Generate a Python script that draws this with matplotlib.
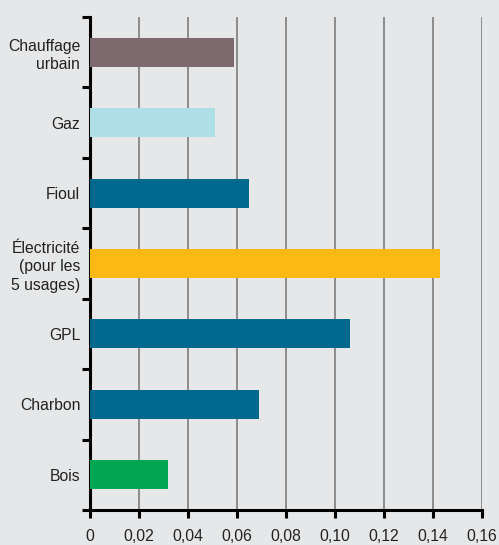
import numpy as np
import matplotlib.pyplot as plt
from matplotlib.ticker import FixedLocator

plt.rcParams['font.family'] = ['Liberation Sans', 'DejaVu Sans']

# categories from top to bottom
labels = ['Chauffage\nurbain', 'Gaz', 'Fioul', 'Électricité\n(pour les\n5 usages)',
          'GPL', 'Charbon', 'Bois']
values = [0.059, 0.051, 0.065, 0.143, 0.106, 0.069, 0.032]
colors = ['#7d6a6f', '#aedfe6', '#006a8e', '#fdb913', '#006a8e', '#006a8e', '#00a651']
xticks = [0, 0.02, 0.04, 0.06, 0.08, 0.10, 0.12, 0.14, 0.16]
xticklabels = ['0', '0,02', '0,04', '0,06', '0,08', '0,10', '0,12', '0,14', '0,16']

bg = '#e6e7e8'
fig = plt.figure(figsize=(4.99, 5.45), dpi=100, facecolor=bg)
ax = fig.add_axes([90 / 499, 35 / 545, (481.7 - 90) / 499, 493 / 545], facecolor=bg)

n = len(labels)
pos = np.arange(n)[::-1]
ax.barh(pos, values, height=0.41, color=colors, zorder=3)

ax.set_xlim(0, 0.16)
ax.set_ylim(-0.5, n - 0.5)

# vertical grid lines
for x in xticks[1:]:
    ax.axvline(x, color='#8c8c8c', lw=1.4, zorder=1)

ax.set_xticks(xticks)
ax.set_xticklabels(xticklabels, fontsize=11.3, color='#222222')
ax.tick_params(axis='x', direction='out', length=6, width=2.2, pad=8)

# ticks between categories, labels at the centres
ax.yaxis.set_major_locator(FixedLocator(np.arange(-0.5, n, 1.0)))
ax.yaxis.set_minor_locator(FixedLocator(pos))
ax.set_yticklabels([], minor=False)
ax.set_yticks(pos, minor=True)
ax.set_yticklabels(labels, minor=True, fontsize=11.3, color='#222222',
                   linespacing=1.3)
ax.tick_params(axis='y', which='major', direction='out', length=6, width=2.2)
ax.tick_params(axis='y', which='minor', length=0, pad=7)

for s in ['top', 'right']:
    ax.spines[s].set_visible(False)
for s in ['left', 'bottom']:
    ax.spines[s].set_linewidth(2.2)
    ax.spines[s].set_color('black')

fig.savefig('out.png', dpi=100, facecolor=bg)
